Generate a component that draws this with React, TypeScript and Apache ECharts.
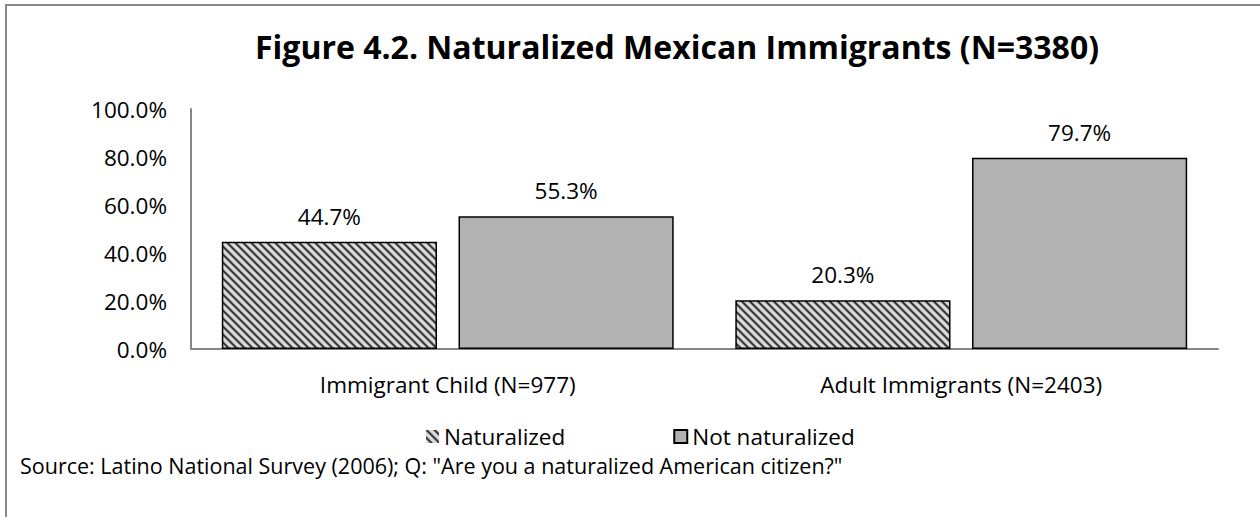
import React, { useEffect, useRef } from "react";
import * as echarts from "echarts";

const categories = ["Immigrant Child (N=977)", "Adult Immigrants (N=2403)"];
const naturalized = [44.7, 20.3];
const notNaturalized = [55.3, 79.7];
const yTicks = [0, 20, 40, 60, 80, 100];
const seriesNames = ["Naturalized", "Not naturalized"];
const titleText = "Figure 4.2. Naturalized Mexican Immigrants (N=3380)";
const sourceText = 'Source: Latino National Survey (2006); Q: "Are you a naturalized American citizen?"';

const FONT = "Open Sans";
const FS = 22.5;

function makeHatch(): string {
  const size = 8;
  const c = document.createElement("canvas");
  c.width = size;
  c.height = size;
  const ctx = c.getContext("2d")!;
  const img = ctx.createImageData(size, size);
  for (let y = 0; y < size; y++) {
    for (let x = 0; x < size; x++) {
      const d = (((x - y) % size) + size) % size;
      let v = 217;
      if (d === 0 || d === 1) v = 58;
      else if (d === 2 || d === 7) v = 130;
      const i = (y * size + x) * 4;
      img.data[i] = v;
      img.data[i + 1] = v;
      img.data[i + 2] = v;
      img.data[i + 3] = 255;
    }
  }
  ctx.putImageData(img, 0, 0);
  return c.toDataURL();
}

export default function App() {
  const ref = useRef<HTMLDivElement>(null);
  useEffect(() => {
    document.body.style.margin = "0";
    const chart = echarts.init(ref.current!, undefined, { renderer: "svg" });
    const hatch = { image: makeHatch(), repeat: "repeat" };
    const labelCfg = {
      show: true,
      position: "top",
      distance: 14,
      color: "#000",
      fontFamily: FONT,
      fontSize: FS,
      formatter: (p: any) => p.value.toFixed(1) + "%",
    };
    chart.setOption({
      animation: false,
      backgroundColor: "#fff",
      textStyle: { fontFamily: FONT },
      title: {
        text: titleText,
        left: 250,
        top: 25,
        textStyle: { fontFamily: FONT, fontWeight: "bold", fontSize: 32, color: "#000" },
      },
      legend: {
        top: 425,
        left: 426,
        padding: 0,
        icon: "rect",
        itemGap: 108,
        itemWidth: 13,
        itemHeight: 13,
        textStyle: { fontFamily: FONT, fontSize: FS, color: "#000", lineHeight: 22 },
        data: [
          { name: seriesNames[0], itemStyle: { borderWidth: 0 } },
          { name: seriesNames[1] },
        ],
      },
      grid: { left: 191, right: 42, top: 109, height: 240, containLabel: false },
      xAxis: {
        type: "category",
        data: categories,
        axisLine: { lineStyle: { color: "#868686", width: 2 } },
        axisTick: { show: false },
        axisLabel: { color: "#000", fontFamily: FONT, fontSize: FS, margin: 24 },
      },
      yAxis: {
        type: "value",
        min: yTicks[0],
        max: yTicks[yTicks.length - 1],
        interval: 20,
        axisLine: { show: true, lineStyle: { color: "#868686", width: 2 } },
        axisTick: { show: false },
        splitLine: { show: false },
        axisLabel: {
          color: "#000",
          fontFamily: FONT,
          fontSize: FS,
          margin: 24,
          formatter: (v: number) => v.toFixed(1) + "%",
        },
      },
      series: [
        {
          name: seriesNames[0],
          type: "bar",
          data: naturalized,
          barGap: "10%",
          barCategoryGap: "12%",
          itemStyle: { color: hatch, borderColor: "#000", borderWidth: 1.5 },
          label: labelCfg,
        },
        {
          name: seriesNames[1],
          type: "bar",
          data: notNaturalized,
          itemStyle: { color: "#b2b2b2", borderColor: "#000", borderWidth: 1.5 },
          label: labelCfg,
        },
      ],
      graphic: [
        {
          type: "rect",
          shape: { x: 6, y: 5, width: 1300, height: 600 },
          style: { fill: "none", stroke: "#898989", lineWidth: 2 },
          silent: true,
        },
        {
          type: "text",
          left: 20,
          top: 454,
          style: { text: sourceText, fill: "#000", font: `21.5px "${FONT}"` },
        },
      ],
    });
    return () => chart.dispose();
  }, []);
  return <div ref={ref} style={{ width: 1260, height: 517 }} />;
}
